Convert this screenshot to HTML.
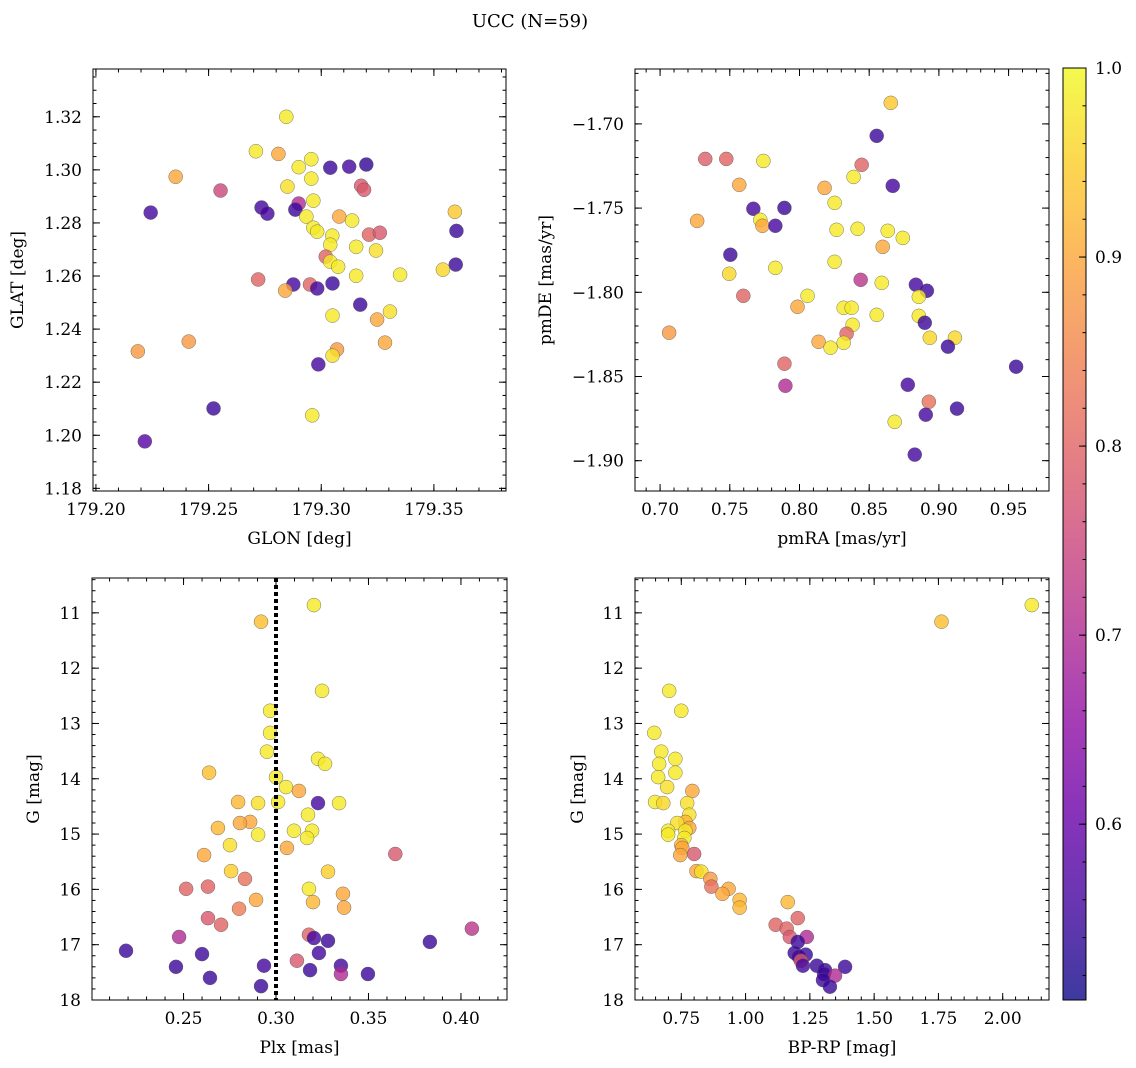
<!DOCTYPE html>
<html><head><meta charset="utf-8">
<style>
html,body{margin:0;padding:0;background:#fff;}
svg{display:block;font-family:"DejaVu Serif","Liberation Serif",serif;}
</style></head>
<body>
<svg id="fig" width="1136" height="1068" viewBox="0 0 1136 1068" xmlns="http://www.w3.org/2000/svg">
<text x="530" y="27" text-anchor="middle" font-size="18">UCC (N=59)</text>
</svg>
<script>
// ---- Panel 1: GLON / GLAT ----
const p1Lon=[179.2845,179.271,179.281,179.2956,179.290,179.304,179.3124,179.320,179.2354,179.2956,179.2553,179.3177,179.319,179.285,179.2735,179.290,179.2243,179.2761,179.2885,179.2965,179.2934,179.308,179.3137,179.3593,179.2965,179.2982,179.3049,179.3212,179.326,179.360,179.304,179.3155,179.3243,179.302,179.304,179.3075,179.3597,179.335,179.354,179.3155,179.272,179.2876,179.295,179.305,179.2982,179.284,179.3173,179.3305,179.305,179.3248,179.3283,179.2186,179.2412,179.307,179.305,179.2987,179.2522,179.296,179.2217];
const p1Lat=[1.320,1.307,1.306,1.304,1.301,1.3008,1.3012,1.302,1.2974,1.2967,1.2922,1.294,1.2925,1.2937,1.2858,1.2873,1.2839,1.2835,1.285,1.2884,1.2824,1.2824,1.2809,1.2842,1.2782,1.2767,1.2752,1.2756,1.2763,1.277,1.2718,1.271,1.2696,1.2673,1.2654,1.2635,1.2643,1.2605,1.2624,1.2601,1.2587,1.2568,1.2568,1.2572,1.2553,1.2545,1.2492,1.2466,1.2451,1.2436,1.2349,1.2316,1.2353,1.2323,1.230,1.2267,1.2101,1.2075,1.1977];
const p1Prob=[0.98,0.98,0.9,0.98,0.98,0.55,0.56,0.54,0.9,0.98,0.75,0.78,0.78,0.97,0.56,0.7,0.56,0.56,0.55,0.98,0.98,0.9,0.98,0.94,0.98,0.98,0.98,0.8,0.78,0.55,0.98,0.98,0.97,0.8,0.98,0.98,0.55,0.98,0.96,0.98,0.8,0.56,0.8,0.55,0.56,0.9,0.55,0.97,0.98,0.9,0.9,0.88,0.88,0.88,0.97,0.56,0.55,0.98,0.58];
// ---- Panel 2: pmRA / pmDE ----
const p2RA=[0.8655,0.8554,0.7324,0.7475,0.7741,0.8446,0.8388,0.8669,0.7568,0.818,0.8252,0.7892,0.7669,0.7266,0.7719,0.7734,0.7827,0.8266,0.8417,0.8633,0.8741,0.8597,0.7504,0.8252,0.7827,0.7496,0.8439,0.8590,0.8835,0.8914,0.8856,0.8058,0.7597,0.7986,0.8317,0.8374,0.8554,0.8856,0.8381,0.8899,0.7065,0.8338,0.9115,0.8935,0.8137,0.8317,0.8223,0.9065,0.7892,0.9554,0.8777,0.7899,0.8928,0.8906,0.913,0.8683,0.8827];
const p2DE=[-1.6875,-1.7071,-1.7208,-1.7208,-1.722,-1.7243,-1.7315,-1.7368,-1.7362,-1.738,-1.7469,-1.7499,-1.7504,-1.7576,-1.757,-1.7605,-1.7605,-1.7629,-1.7623,-1.7635,-1.7677,-1.773,-1.7777,-1.7819,-1.7855,-1.789,-1.7926,-1.7944,-1.7955,-1.7991,-1.8027,-1.8021,-1.8021,-1.8086,-1.8092,-1.8092,-1.8134,-1.814,-1.8193,-1.8181,-1.824,-1.8246,-1.827,-1.827,-1.8294,-1.830,-1.8329,-1.8323,-1.8424,-1.8442,-1.8549,-1.8555,-1.865,-1.8727,-1.8691,-1.8769,-1.8964];
const p2Prob=[0.94,0.55,0.79,0.8,0.98,0.8,0.98,0.56,0.9,0.9,0.98,0.55,0.56,0.9,0.98,0.9,0.56,0.98,0.98,0.98,0.98,0.9,0.55,0.98,0.98,0.96,0.72,0.98,0.56,0.55,0.98,0.98,0.8,0.9,0.98,0.98,0.98,0.98,0.98,0.55,0.88,0.8,0.96,0.96,0.9,0.98,0.98,0.55,0.8,0.55,0.56,0.7,0.82,0.56,0.55,0.98,0.56];
// ---- Panel 3: Plx / G ----
const p3Plx=[0.3205,0.2919,0.3249,0.2968,0.2968,0.2951,0.3227,0.3265,0.2638,0.300,0.3054,0.3124,0.2795,0.2903,0.3011,0.3227,0.3341,0.3173,0.2860,0.2805,0.2686,0.3097,0.3195,0.2903,0.3168,0.2751,0.3059,0.3645,0.2611,0.3281,0.2757,0.2832,0.3178,0.2514,0.2632,0.3362,0.2892,0.3200,0.3368,0.2800,0.2632,0.2703,0.4059,0.2476,0.3178,0.3205,0.3281,0.3832,0.2189,0.2600,0.3232,0.3113,0.2459,0.2935,0.3351,0.3184,0.3351,0.3497,0.2643,0.2919];
const p3G=[10.86,11.16,12.41,12.77,13.17,13.51,13.64,13.73,13.89,13.97,14.15,14.22,14.42,14.44,14.42,14.44,14.44,14.65,14.78,14.80,14.89,14.94,14.94,15.01,15.07,15.20,15.25,15.36,15.38,15.68,15.67,15.81,15.99,15.99,15.95,16.08,16.19,16.23,16.33,16.35,16.52,16.64,16.71,16.86,16.82,16.88,16.93,16.95,17.11,17.17,17.15,17.29,17.40,17.38,17.38,17.46,17.53,17.53,17.60,17.75];
const p3Prob=[0.98,0.93,0.98,0.98,0.98,0.98,0.98,0.98,0.93,0.98,0.98,0.9,0.92,0.97,0.98,0.56,0.98,0.98,0.9,0.9,0.92,0.98,0.98,0.98,0.98,0.97,0.9,0.78,0.9,0.95,0.95,0.82,0.98,0.8,0.8,0.9,0.9,0.92,0.9,0.84,0.78,0.8,0.72,0.7,0.8,0.56,0.55,0.55,0.55,0.55,0.56,0.78,0.55,0.56,0.56,0.55,0.7,0.55,0.55,0.55];
// ---- Panel 4: BP-RP / G ----
const p4BPRP=[2.113,1.762,0.703,0.75,0.645,0.672,0.727,0.664,0.727,0.660,0.695,0.793,0.648,0.68,0.773,0.781,0.766,0.734,0.781,0.699,0.766,0.699,0.762,0.75,0.754,0.80,0.746,0.809,0.828,0.863,0.934,0.867,0.910,0.977,1.164,0.977,1.203,1.117,1.160,1.172,1.238,1.203,1.191,1.207,1.234,1.215,1.223,1.277,1.309,1.387,1.305,1.348,1.301,1.328];
const p4G=[10.86,11.16,12.41,12.77,13.17,13.51,13.64,13.73,13.89,13.97,14.15,14.22,14.42,14.44,14.44,14.65,14.78,14.80,14.89,14.94,14.94,15.01,15.07,15.20,15.25,15.36,15.38,15.67,15.68,15.81,15.99,15.95,16.08,16.19,16.23,16.33,16.52,16.64,16.71,16.86,16.86,16.95,17.15,17.22,17.18,17.29,17.38,17.38,17.46,17.40,17.53,17.56,17.64,17.76];
const p4Prob=[0.98,0.93,0.98,0.98,0.98,0.98,0.98,0.98,0.98,0.98,0.97,0.9,0.98,0.96,0.97,0.97,0.92,0.97,0.9,0.98,0.98,0.98,0.98,0.92,0.9,0.78,0.9,0.9,0.97,0.88,0.9,0.82,0.9,0.92,0.92,0.92,0.8,0.8,0.8,0.78,0.7,0.55,0.55,0.56,0.55,0.78,0.56,0.55,0.55,0.55,0.55,0.7,0.55,0.55];
// ---- tick labels ----
const p1XTicks=[179.20,179.25,179.30,179.35];
const p1YTicks=[1.18,1.20,1.22,1.24,1.26,1.28,1.30,1.32];
const p2XTicks=[0.70,0.75,0.80,0.85,0.90,0.95];
const p2YTicks=[-1.90,-1.85,-1.80,-1.75,-1.70];
const p3XTicks=[0.25,0.30,0.35,0.40];
const gTicks=[11,12,13,14,15,16,17,18];
const p4XTicks=[0.75,1.00,1.25,1.50,1.75,2.00];
const cbTicks=[0.6,0.7,0.8,0.9,1.0];
const plxRef=[0.30];

const NS="http://www.w3.org/2000/svg";
const fig=document.getElementById('fig');
function mk(tag,attrs,parent){const e=document.createElementNS(NS,tag);for(const k in attrs)e.setAttribute(k,attrs[k]);(parent||fig).appendChild(e);return e;}
const stops=["#0d0887","#41049d","#6a00a8","#8f0da4","#b12a90","#cc4778","#e16462","#f2844b","#fca636","#fcce25","#f0f921"];
function hex(h){return [parseInt(h.slice(1,3),16),parseInt(h.slice(3,5),16),parseInt(h.slice(5,7),16)];}
function plasma(t){t=Math.max(0,Math.min(1,t));const f=t*10,i=Math.min(9,Math.floor(f)),r=f-i;const a=hex(stops[i]),b=hex(stops[i+1]);return `rgb(${a.map((v,k)=>Math.round(v+(b[k]-v)*r)).join(',')})`;}
const CMIN=0.507,CMAX=1.0;
function fmt(v,d){return (v<0?"\u2212":"")+Math.abs(v).toFixed(d);}
const FS=17;

function panel(o){
  const g=mk('g',{},fig);
  
  
  const sx=v=>o.L+(v-o.x0)/(o.x1-o.x0)*(o.R-o.L);
  const sy=v=>o.B-(v-o.y0)/(o.y1-o.y0)*(o.B-o.T);
  const pg=mk('g',{},g);
  
  
  for(let i=0;i<o.xs.length;i++){
    const c=mk('circle',{cx:sx(o.xs[i]),cy:sy(o.ys[i]),r:7,fill:plasma((o.ps[i]-CMIN)/(CMAX-CMIN)),'fill-opacity':0.8,stroke:'#555','stroke-width':0.4},pg);
    
    
  }
  if(o.vline){o.vline.forEach(v=>{const l=mk('line',{x1:sx(v),x2:sx(v),y1:o.T,y2:o.B,stroke:'#000','stroke-width':4,'stroke-dasharray':'4,3'},g);
    
    });}
  const fr=mk('rect',{x:o.L,y:o.T,width:o.R-o.L,height:o.B-o.T,fill:'none',stroke:'#000','stroke-width':1},g);
  
  
  for(let v=Math.ceil(o.x0/o.xm-1e-9)*o.xm;v<=o.x1+1e-9;v+=o.xm){const x=sx(v);mk('line',{x1:x,x2:x,y1:o.B,y2:o.B-3.5,stroke:'#000'},g);mk('line',{x1:x,x2:x,y1:o.T,y2:o.T+3.5,stroke:'#000'},g);}
  for(let v=Math.ceil(o.y0/o.ym-1e-9)*o.ym;v<=o.y1+1e-9;v+=o.ym){const y=sy(v);mk('line',{x1:o.L,x2:o.L+3.5,y1:y,y2:y,stroke:'#000'},g);mk('line',{x1:o.R,x2:o.R-3.5,y1:y,y2:y,stroke:'#000'},g);}
  o.xt.forEach(v=>{const x=sx(v);mk('line',{x1:x,x2:x,y1:o.B,y2:o.B-7,stroke:'#000'},g);mk('line',{x1:x,x2:x,y1:o.T,y2:o.T+7,stroke:'#000'},g);
    const t=mk('text',{x:x,y:o.B+24,'text-anchor':'middle','font-size':FS},g);t.textContent=fmt(v,o.xd);
    
    });
  o.yt.forEach(v=>{const y=sy(v);mk('line',{x1:o.L,x2:o.L+7,y1:y,y2:y,stroke:'#000'},g);mk('line',{x1:o.R,x2:o.R-7,y1:y,y2:y,stroke:'#000'},g);
    const t=mk('text',{x:o.L-11,y:y+6,'text-anchor':'end','font-size':FS},g);t.textContent=o.neg?fmt(-v,o.yd):fmt(v,o.yd);
    
    });
  const xl=mk('text',{x:(o.L+o.R)/2,y:o.B+53,'text-anchor':'middle','font-size':FS},g);xl.textContent=o.xlab;
  
  
  const yl=mk('text',{x:0,y:0,'text-anchor':'middle','font-size':FS,transform:`translate(${o.ylx},${(o.T+o.B)/2}) rotate(-90)`},g);yl.textContent=o.ylab;
  
  
}
panel({name:'glon-glat-panel',L:93,R:506,T:69,B:491,x0:179.1987,x1:179.382,y0:1.179,y1:1.338,xs:p1Lon,ys:p1Lat,ps:p1Prob,xt:p1XTicks,yt:p1YTicks,xm:0.01,ym:0.005,xd:2,yd:2,xlab:'GLON [deg]',ylab:'GLAT [deg]',ylx:23});
panel({name:'pm-panel',L:635,R:1049,T:69,B:491,x0:0.682,x1:0.979,y0:-1.918,y1:-1.6674,xs:p2RA,ys:p2DE,ps:p2Prob,xt:p2XTicks,yt:p2YTicks,xm:0.01,ym:0.01,xd:2,yd:2,xlab:'pmRA [mas/yr]',ylab:'pmDE [mas/yr]',ylx:551});
panel({name:'plx-g-panel',L:92,R:507,T:578,B:1000,x0:0.2005,x1:0.4249,y0:-18.0,y1:-10.37,xs:p3Plx,ys:p3G.map(v=>-v),ps:p3Prob,xt:p3XTicks,yt:gTicks.map(v=>-v),neg:true,xm:0.01,ym:0.2,xd:2,yd:0,xlab:'Plx [mas]',ylab:'G [mag]',ylx:39,vline:plxRef});
panel({name:'cmd-panel',L:635,R:1049,T:578,B:1000,x0:0.570,x1:2.18,y0:-18.0,y1:-10.37,xs:p4BPRP,ys:p4G.map(v=>-v),ps:p4Prob,xt:p4XTicks,yt:gTicks.map(v=>-v),neg:true,xm:0.05,ym:0.2,xd:2,yd:0,xlab:'BP-RP [mag]',ylab:'G [mag]',ylx:583});

// colorbar
const cb=mk('g',{},fig);


const defs=mk('defs',{},cb);
const lg=mk('linearGradient',{id:'cbg',x1:0,y1:1,x2:0,y2:0},defs);
for(let i=0;i<=20;i++){mk('stop',{offset:i/20,'stop-color':plasma(i/20),'stop-opacity':0.8},lg);}
const CT=68,CBt=1000,CL=1063,CR=1086;
mk('rect',{x:CL,y:CT,width:CR-CL,height:CBt-CT,fill:'url(#cbg)',stroke:'#000','stroke-width':1},cb);
const cy=v=>CBt-(v-CMIN)/(CMAX-CMIN)*(CBt-CT);
for(let v=0.52;v<=1.0001;v+=0.02){mk('line',{x1:CR,x2:CR-3.5,y1:cy(v),y2:cy(v),stroke:'#000'},cb);}
cbTicks.forEach(v=>{mk('line',{x1:CR,x2:CR-7,y1:cy(v),y2:cy(v),stroke:'#000'},cb);
  const t=mk('text',{x:CR+9,y:cy(v)+6,'font-size':FS},cb);t.textContent=v.toFixed(1);
  
  });
</script>
</body></html>
